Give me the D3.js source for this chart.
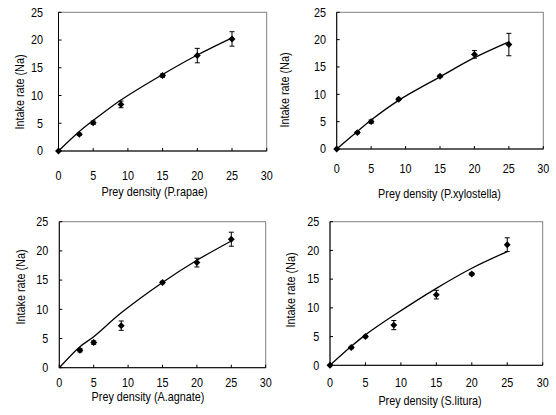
<!DOCTYPE html>
<html lang="en">

<head>
    <meta charset="UTF-8">
    <title>intake rate vs prey density</title>
    <script src="https://cdn.jsdelivr.net/npm/d3@7"></script>
    <style>
        body {
            margin: 0;
            background: #fff;
        }

        text {
            font-family: "Liberation Sans", Arial, sans-serif;
            font-size: 12px;
            fill: #000;
        }
    </style>
</head>

<body>
    <svg width="556" height="415" id="fig"></svg>

    <script>
        // prey densities offered
        let density = [0, 3, 5, 9, 15, 20, 25]

        // observed intake (mean) and error, per prey species
        let rapae_mean = [0, 3.0, 5.1, 8.4, 13.6, 17.2, 20.2]
        let rapae_err = [0, 0.2, 0.3, 0.6, 0.3, 1.3, 1.3]
        let rapae_fit = [0, 3.5, 5.5, 9.2, 13.8, 17.3, 20.4]

        let xylo_mean = [0, 3.0, 5.0, 9.1, 13.3, 17.3, 19.1]
        let xylo_err = [0, 0.2, 0.3, 0.2, 0.2, 0.7, 2.05]
        let xylo_fit = [0, 3.2, 5.3, 8.9, 13.2, 16.7, 19.6]

        let agnate_x = [3, 5, 9, 15, 20, 25]
        let agnate_mean = [3.0, 4.3, 7.2, 14.6, 18.0, 22.0]
        let agnate_err = [0.3, 0.3, 0.8, 0.2, 0.75, 1.2]
        let agnate_fit = [0, 3.6, 5.3, 9.4, 14.6, 18.4, 21.7]

        let litura_mean = [0, 3.1, 5.0, 7.0, 12.3, 15.9, 21.0]
        let litura_err = [0, 0.2, 0.2, 0.8, 0.75, 0.2, 1.2]
        let litura_fit = [0, 3.3, 5.3, 8.7, 13.4, 16.9, 19.8]

        let ticks = [0, 5, 10, 15, 20, 25, 30]
        let yticks = [0, 5, 10, 15, 20, 25]

        let svg = d3.select("#fig")
        let squeeze = 0.9   // text in the original is a bit narrow

        // one panel of the figure
        function panel(box, xs, mean, err, fit, xLabel) {
            let x = d3.scaleLinear().domain([0, 30]).range([box.l, box.r])
            let y = d3.scaleLinear().domain([0, 25]).range([box.b, box.t])
            let g = svg.append("g")

            // frame
            g.append("rect")
                .attr("x", box.l).attr("y", box.t)
                .attr("width", box.r - box.l).attr("height", box.b - box.t)
                .attr("fill", "none").attr("stroke", "#808080")

            // axes lines + inside ticks
            g.append("line")
                .attr("x1", box.l).attr("x2", box.r).attr("y1", box.b).attr("y2", box.b)
                .attr("stroke", "#000")
            g.append("line")
                .attr("x1", box.l).attr("x2", box.l).attr("y1", box.t).attr("y2", box.b)
                .attr("stroke", "#000")
            g.selectAll(".xt").data(ticks).enter().append("line")
                .attr("x1", d => x(d)).attr("x2", d => x(d))
                .attr("y1", box.b).attr("y2", box.b - 3)
                .attr("stroke", "#000")
            g.selectAll(".yt").data(yticks).enter().append("line")
                .attr("x1", box.l).attr("x2", box.l + 3)
                .attr("y1", d => y(d)).attr("y2", d => y(d))
                .attr("stroke", "#000")

            // tick labels
            g.selectAll(".xl").data(ticks).enter().append("text")
                .attr("transform", d => "translate(" + x(d) + "," + box.xtb + ") scale(" + squeeze + ",1)")
                .attr("text-anchor", "middle")
                .text(d => d)
            g.selectAll(".yl").data(yticks).enter().append("text")
                .attr("transform", d => "translate(" + box.ytr + "," + (y(d) + 4.3) + ") scale(" + squeeze + ",1)")
                .attr("text-anchor", "end")
                .text(d => d)

            // titles
            g.append("text")
                .attr("transform", "translate(" + box.xlc + "," + box.xlb + ") scale(" + squeeze + ",1)")
                .attr("text-anchor", "middle")
                .text(xLabel)
            g.append("text")
                .attr("transform", "translate(" + box.ylx + "," + box.yly + ") rotate(-90) scale(" + squeeze + ",1)")
                .attr("text-anchor", "middle")
                .attr("dy", "0.35em")
                .text("Intake rate (Na)")

            // fitted curve
            let line = d3.line()
                .x((d, i) => x(density[i]))
                .y(d => y(d))
                .curve(d3.curveCatmullRom.alpha(0.5))
            g.append("path")
                .attr("d", line(fit))
                .attr("fill", "none")
                .attr("stroke", "#000")
                .attr("stroke-width", 1.3)

            // error bars
            let pts = xs.map((d, i) => ({ x: d, m: mean[i], e: err[i] }))
            let eb = g.selectAll(".eb").data(pts.filter(d => d.e > 0)).enter().append("g")
                .attr("stroke", "#000")
            eb.append("line")
                .attr("x1", d => x(d.x)).attr("x2", d => x(d.x))
                .attr("y1", d => y(d.m - d.e)).attr("y2", d => y(d.m + d.e))
            eb.append("line")
                .attr("x1", d => x(d.x) - 2.5).attr("x2", d => x(d.x) + 2.5)
                .attr("y1", d => y(d.m + d.e)).attr("y2", d => y(d.m + d.e))
            eb.append("line")
                .attr("x1", d => x(d.x) - 2.5).attr("x2", d => x(d.x) + 2.5)
                .attr("y1", d => y(d.m - d.e)).attr("y2", d => y(d.m - d.e))

            // diamond markers
            g.selectAll(".pt").data(pts).enter().append("path")
                .attr("d", d3.symbol(d3.symbolSquare, 24))
                .attr("transform", d => "translate(" + x(d.x) + "," + y(d.m) + ") rotate(45)")
                .attr("fill", "#000")
        }

        panel({ l: 58.5, r: 266.7, t: 12.3, b: 151, xtb: 180, xlb: 196, xlc: 154.5, ytr: 43, ylx: 20, yly: 92 },
            density, rapae_mean, rapae_err, rapae_fit, "Prey density (P.rapae)")
        panel({ l: 336.7, r: 543.3, t: 12.3, b: 149, xtb: 173, xlb: 198, xlc: 439.5, ytr: 326, ylx: 284.5, yly: 90 },
            density, xylo_mean, xylo_err, xylo_fit, "Prey density (P.xylostella)")
        panel({ l: 59.3, r: 265.7, t: 221.7, b: 367.7, xtb: 386.5, xlb: 401, xlc: 148, ytr: 48.3, ylx: 20.7, yly: 287 },
            agnate_x, agnate_mean, agnate_err, agnate_fit, "Prey density (A.agnate)")
        panel({ l: 330, r: 542.7, t: 221.7, b: 365.3, xtb: 386.5, xlb: 405, xlc: 430, ytr: 319.3, ylx: 291, yly: 290 },
            density, litura_mean, litura_err, litura_fit, "Prey density (S.litura)")
    </script>
</body>

</html>
